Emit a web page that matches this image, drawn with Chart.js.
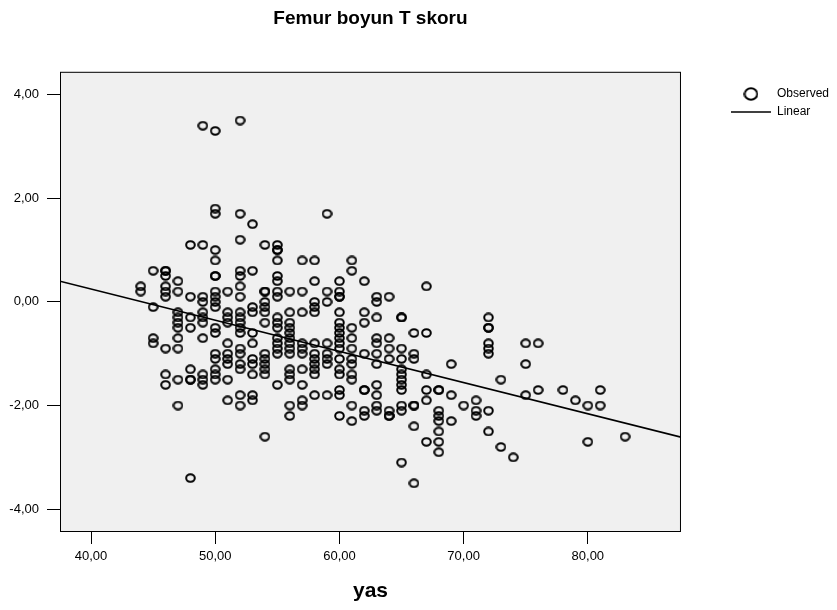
<!DOCTYPE html>
<html>
<head>
<meta charset="utf-8">
<title>Femur boyun T skoru</title>
<script src="https://cdn.jsdelivr.net/npm/chart.js@4.4.1/dist/chart.umd.min.js"></script>
<style>
  html, body { margin: 0; padding: 0; background: #fff; }
  #box { width: 837px; height: 610px; }
</style>
</head>
<body>
<div id="box"><canvas id="femurChart" width="837" height="610"></canvas></div>
<script>
// observed T scores, grouped by age (yas)
const ages = [44, 45, 46, 47, 48, 49, 50, 51, 52, 53, 54, 55, 56, 57, 58, 59, 60, 61, 62, 63,
  64, 65, 66, 67, 68, 69, 70, 71, 72, 73, 74, 75, 76, 78, 79, 80, 81, 83];
const scoresByAge = [
  [0.3, 0.2],
  [0.6, -0.1, -0.7, -0.8],
  [0.6, 0.6, 0.5, 0.3, 0.2, 0.1, -0.9, -1.4, -1.6],
  [0.4, 0.2, -0.2, -0.3, -0.4, -0.5, -0.7, -0.9, -1.5, -2.0],
  [1.1, 0.1, -0.3, -0.5, -1.3, -1.5, -1.5, -3.4],
  [3.4, 1.1, 0.1, 0.0, -0.2, -0.3, -0.4, -0.7, -1.4, -1.5, -1.6],
  [3.3, 1.8, 1.7, 1.0, 0.8, 0.5, 0.5, 0.2, 0.1, 0.0, -0.1, -0.5, -0.6, -1.0, -1.1, -1.3, -1.4, -1.5],
  [0.2, -0.2, -0.3, -0.4, -0.8, -1.0, -1.1, -1.2, -1.5, -1.9],
  [3.5, 1.7, 1.2, 0.6, 0.5, 0.3, 0.1, -0.2, -0.3, -0.4, -0.5, -0.6, -0.9, -1.0, -1.2, -1.3, -1.8, -2.0],
  [1.5, 0.6, -0.1, -0.2, -0.6, -0.8, -1.1, -1.2, -1.4, -1.8, -1.9],
  [1.1, 0.2, 0.2, 0.0, -0.1, -0.2, -0.4, -1.0, -1.1, -1.2, -1.3, -1.4, -2.6],
  [1.1, 1.0, 1.0, 0.8, 0.5, 0.4, 0.2, 0.1, -0.3, -0.4, -0.5, -0.7, -0.8, -0.9, -1.0, -1.6],
  [0.2, -0.2, -0.4, -0.5, -0.6, -0.7, -0.8, -0.9, -1.0, -1.3, -1.4, -1.5, -2.0, -2.2],
  [0.8, 0.2, -0.2, -0.8, -0.9, -1.0, -1.3, -1.6, -1.9, -2.0],
  [0.8, 0.4, 0.0, -0.1, -0.2, -0.8, -1.0, -1.1, -1.2, -1.3, -1.4, -1.8],
  [1.7, 0.2, 0.0, -0.8, -1.0, -1.1, -1.2, -1.8],
  [0.4, 0.2, 0.1, 0.1, -0.2, -0.4, -0.5, -0.6, -0.7, -0.8, -0.9, -1.1, -1.3, -1.4, -1.7, -1.8, -2.2],
  [0.8, 0.6, -0.5, -0.7, -0.9, -1.1, -1.2, -1.4, -1.5, -2.0, -2.3],
  [0.4, -0.2, -0.4, -1.0, -1.7, -1.7, -2.1, -2.2],
  [0.1, 0.0, -0.3, -0.7, -0.8, -1.0, -1.2, -1.6, -1.8, -2.0, -2.1],
  [0.1, -0.7, -0.9, -1.1, -2.1, -2.2, -2.2],
  [-0.3, -0.3, -0.9, -1.1, -1.3, -1.4, -1.5, -1.6, -1.7, -2.0, -2.1, -3.1],
  [-0.6, -1.0, -1.1, -2.0, -2.0, -2.4, -3.5],
  [0.3, -0.6, -1.4, -1.7, -1.9, -2.7],
  [-1.7, -1.7, -2.1, -2.2, -2.3, -2.5, -2.7, -2.9],
  [-1.2, -1.8, -2.3],
  [-2.0],
  [-1.9, -2.1, -2.2],
  [-0.3, -0.5, -0.5, -0.8, -0.9, -1.0, -2.1, -2.5],
  [-1.5, -2.8],
  [-3.0],
  [-0.8, -1.2, -1.8],
  [-0.8, -1.7],
  [-1.7],
  [-1.9],
  [-2.0, -2.7],
  [-1.7, -2.0],
  [-2.6]
];

// linear fit, read at both ends of the x range
const fitAges = [37.5, 87.5];
const fitScores = [0.40, -2.61];

const xTicks = [40, 50, 60, 70, 80];
const yTicks = [-4, -2, 0, 2, 4];
const xRange = [37.5, 87.5];
const yRange = [-4.44, 4.44];

const fontFamily = '"Liberation Sans", Arial, Helvetica, sans-serif';
const legendOffset = 44;

function ringMarker(w, h, lw) {
  const c = document.createElement("canvas");
  c.width = w;
  c.height = h;
  const g = c.getContext("2d");
  g.strokeStyle = "#000";
  g.lineWidth = lw;
  g.beginPath();
  g.ellipse(w / 2, h / 2, w / 2 - lw / 2 - 0.2, h / 2 - lw / 2 - 0.2, 0, 0, Math.PI * 2);
  g.stroke();
  return c;
}

const pointRing = ringMarker(11, 10, 2);
const legendRing = ringMarker(15, 14, 2);

const observed = [];
ages.forEach(function (age, i) {
  scoresByAge[i].forEach(function (v) {
    observed.push({ x: age, y: v });
  });
});

const fitLine = fitAges.map(function (a, i) {
  return { x: a, y: fitScores[i] };
});

const fmt = (v) => v.toFixed(2).replace(".", ",");

// grey plot background + frame, and push the legend away from the plot
const plotFrame = {
  id: "plotFrame",
  afterLayout(chart) {
    chart.legend.left += legendOffset;
    chart.legend.right += legendOffset;
  },
  beforeDatasetsDraw(chart) {
    const { ctx, chartArea: a } = chart;
    ctx.save();
    ctx.fillStyle = "#f0f0f0";
    ctx.fillRect(a.left, a.top, a.width, a.height);
    ctx.strokeStyle = "#000";
    ctx.lineWidth = 1;
    ctx.strokeRect(a.left + 0.5, a.top + 0.5, a.width - 1, a.height - 1);
    ctx.restore();
  }
};

const ctx = document.getElementById("femurChart");

new Chart(ctx, {
  type: "scatter",
  data: {
    datasets: [
      {
        label: "Observed",
        data: observed,
        pointStyle: pointRing,
        pointRadius: 4,
        borderColor: "#000",
        backgroundColor: "transparent",
        order: 1
      },
      {
        type: "line",
        label: "Linear",
        data: fitLine,
        borderColor: "#000",
        borderWidth: 1.6,
        pointRadius: 0,
        pointStyle: "line",
        fill: false,
        order: 0
      }
    ]
  },
  options: {
    responsive: false,
    animation: false,
    devicePixelRatio: 1,
    layout: { padding: { left: 0, right: 42, top: 0, bottom: 0 } },
    plugins: {
      tooltip: { enabled: false },
      title: {
        display: true,
        text: "Femur boyun T skoru",
        fullSize: false,
        color: "#000",
        font: { family: fontFamily, size: 19, weight: "bold" },
        padding: { top: 7, bottom: 42 }
      },
      legend: {
        position: "right",
        align: "start",
        fullSize: false,
        title: { display: true, text: "", font: { size: 6 }, padding: { top: 3, bottom: 0 } },
        labels: {
          usePointStyle: true,
          pointStyleWidth: 40,
          padding: 6,
          color: "#000",
          font: { family: fontFamily, size: 12 },
          sort: (a, b) => a.datasetIndex - b.datasetIndex,
          generateLabels(chart) {
            const items = Chart.defaults.plugins.legend.labels.generateLabels(chart);
            items.forEach(function (it) {
              if (it.datasetIndex === 0) it.pointStyle = legendRing;
              else it.pointStyle = "line";
            });
            return items;
          }
        }
      }
    },
    scales: {
      x: {
        type: "linear",
        position: "bottom",
        min: xRange[0],
        max: xRange[1],
        afterBuildTicks: (s) => { s.ticks = xTicks.map((v) => ({ value: v })); },
        afterFit: (s) => { s.height = 78; },
        border: { display: false },
        grid: { drawOnChartArea: false, tickLength: 12, color: "#000", lineWidth: 1 },
        ticks: {
          color: "#000",
          padding: 5,
          maxRotation: 0,
          font: { family: fontFamily, size: 13 },
          callback: (v) => fmt(v)
        },
        title: {
          display: true,
          text: "yas",
          color: "#000",
          font: { family: fontFamily, size: 21, weight: "bold" },
          padding: { top: 0, bottom: 6 }
        }
      },
      y: {
        type: "linear",
        min: yRange[0],
        max: yRange[1],
        afterBuildTicks: (s) => { s.ticks = yTicks.map((v) => ({ value: v })); },
        afterFit: (s) => { s.width = 60; },
        border: { display: false },
        grid: { drawOnChartArea: false, tickLength: 13, color: "#000", lineWidth: 1 },
        ticks: {
          color: "#000",
          padding: 8,
          font: { family: fontFamily, size: 13 },
          callback: (v) => fmt(v)
        }
      }
    }
  },
  plugins: [plotFrame]
});
</script>
</body>
</html>
